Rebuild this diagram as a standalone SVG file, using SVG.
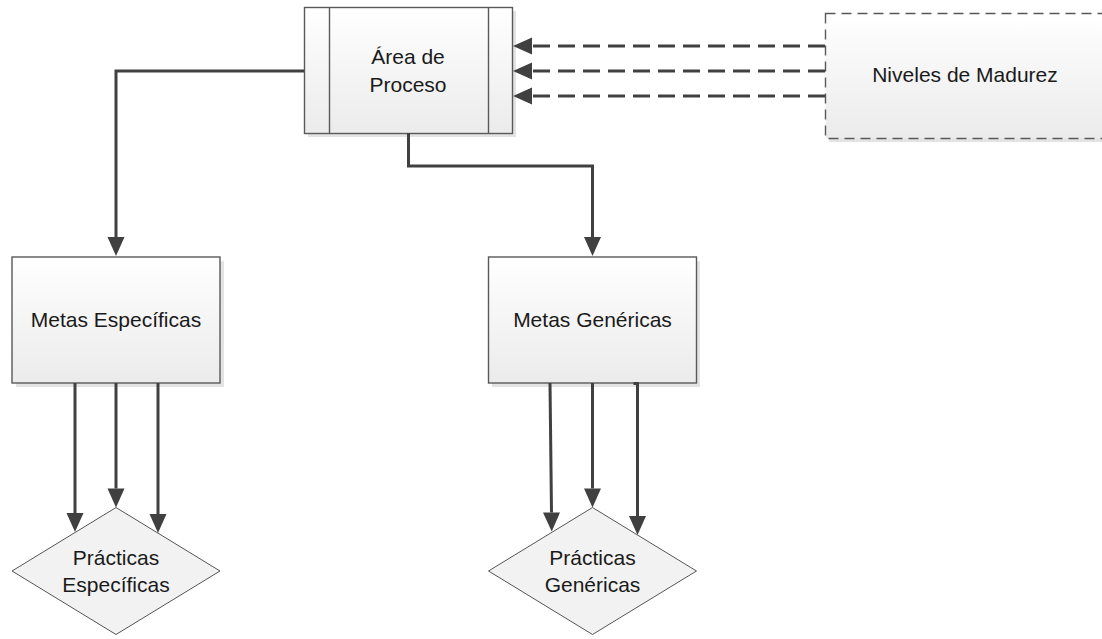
<svg xmlns="http://www.w3.org/2000/svg" width="1102" height="639" viewBox="0 0 1102 639">
<defs>
<linearGradient id="g" x1="0" y1="0" x2="0" y2="1">
<stop offset="0" stop-color="#ffffff"/>
<stop offset="1" stop-color="#ebebeb"/>
</linearGradient>
<marker id="arr" markerUnits="userSpaceOnUse" markerWidth="19" markerHeight="17" viewBox="0 0 19 17" refX="0" refY="8.5" orient="auto" overflow="visible">
<path d="M0,0 L19,8.5 L0,17 Z" fill="#404040"/>
</marker>
<style>
.shadow{fill:#dcdcdc;opacity:0.8}
.box{fill:url(#g);stroke:#595959;stroke-width:1.4}
.dbox{fill:url(#g);stroke:#595959;stroke-width:1.4;stroke-dasharray:10 6}
.dia{fill:#f2f2f2;stroke:#555555;stroke-width:1}
.t{font-family:"Liberation Sans",Arial,sans-serif;font-size:21px;fill:#1a1a1a;text-anchor:middle}
.c{fill:none;stroke:#404040;stroke-width:3}
.cd{fill:none;stroke:#404040;stroke-width:3;stroke-dasharray:17 8}
</style>
</defs>
<rect width="1102" height="639" fill="#ffffff"/>

<g id="area-proceso">
<rect class="shadow" x="308" y="11" width="208" height="126"/>
<rect class="box" x="304.5" y="7.5" width="208" height="126"/>
<line x1="329.5" y1="7.5" x2="329.5" y2="133.5" stroke="#595959" stroke-width="1.4"/>
<line x1="488.5" y1="7.5" x2="488.5" y2="133.5" stroke="#595959" stroke-width="1.4"/>
<text class="t" x="408" y="64">Área de</text>
<text class="t" x="408" y="92">Proceso</text>
</g>

<g id="niveles-madurez">
<rect class="shadow" x="829" y="17" width="280" height="125"/>
<rect class="dbox" x="825.5" y="13.5" width="280" height="125"/>
<text class="t" x="965" y="82">Niveles de Madurez</text>
</g>

<g id="metas-especificas">
<rect class="shadow" x="16" y="261" width="208" height="126"/>
<rect class="box" x="12" y="257" width="208" height="126"/>
<text class="t" x="116" y="327">Metas Específicas</text>
</g>

<g id="metas-genericas">
<rect class="shadow" x="492" y="261" width="208" height="126"/>
<rect class="box" x="488.5" y="257" width="208" height="126"/>
<text class="t" x="592.5" y="327">Metas Genéricas</text>
</g>

<g id="practicas-especificas">
<polygon class="dia" points="116,507.5 220,571 116,634.5 12,571"/>
<text class="t" x="116" y="565">Prácticas</text>
<text class="t" x="116" y="592">Específicas</text>
</g>

<g id="practicas-genericas">
<polygon class="dia" points="592.5,507.5 696.5,571 592.5,634.5 488.5,571"/>
<text class="t" x="592.5" y="565">Prácticas</text>
<text class="t" x="592.5" y="592">Genéricas</text>
</g>

<g id="connectors">
<path class="c" d="M304,71 H116 V237" marker-end="url(#arr)"/>
<path class="c" d="M408.5,133 V166 H592.5 V237" marker-end="url(#arr)"/>
<path class="cd" d="M825,46 H532" marker-end="url(#arr)"/>
<path class="cd" d="M825,71 H532" marker-end="url(#arr)"/>
<path class="cd" d="M825,96 H532" marker-end="url(#arr)"/>
<path class="c" d="M75,383 V513" marker-end="url(#arr)"/>
<path class="c" d="M116,383 V488.5" marker-end="url(#arr)"/>
<path class="c" d="M158,383 V514" marker-end="url(#arr)"/>
<path class="c" d="M550,383 L551.5,512.5" marker-end="url(#arr)"/>
<path class="c" d="M592.5,383 V488.5" marker-end="url(#arr)"/>
<path class="c" d="M633.5,383.5 H637.5 V516" marker-end="url(#arr)"/>
</g>
</svg>
